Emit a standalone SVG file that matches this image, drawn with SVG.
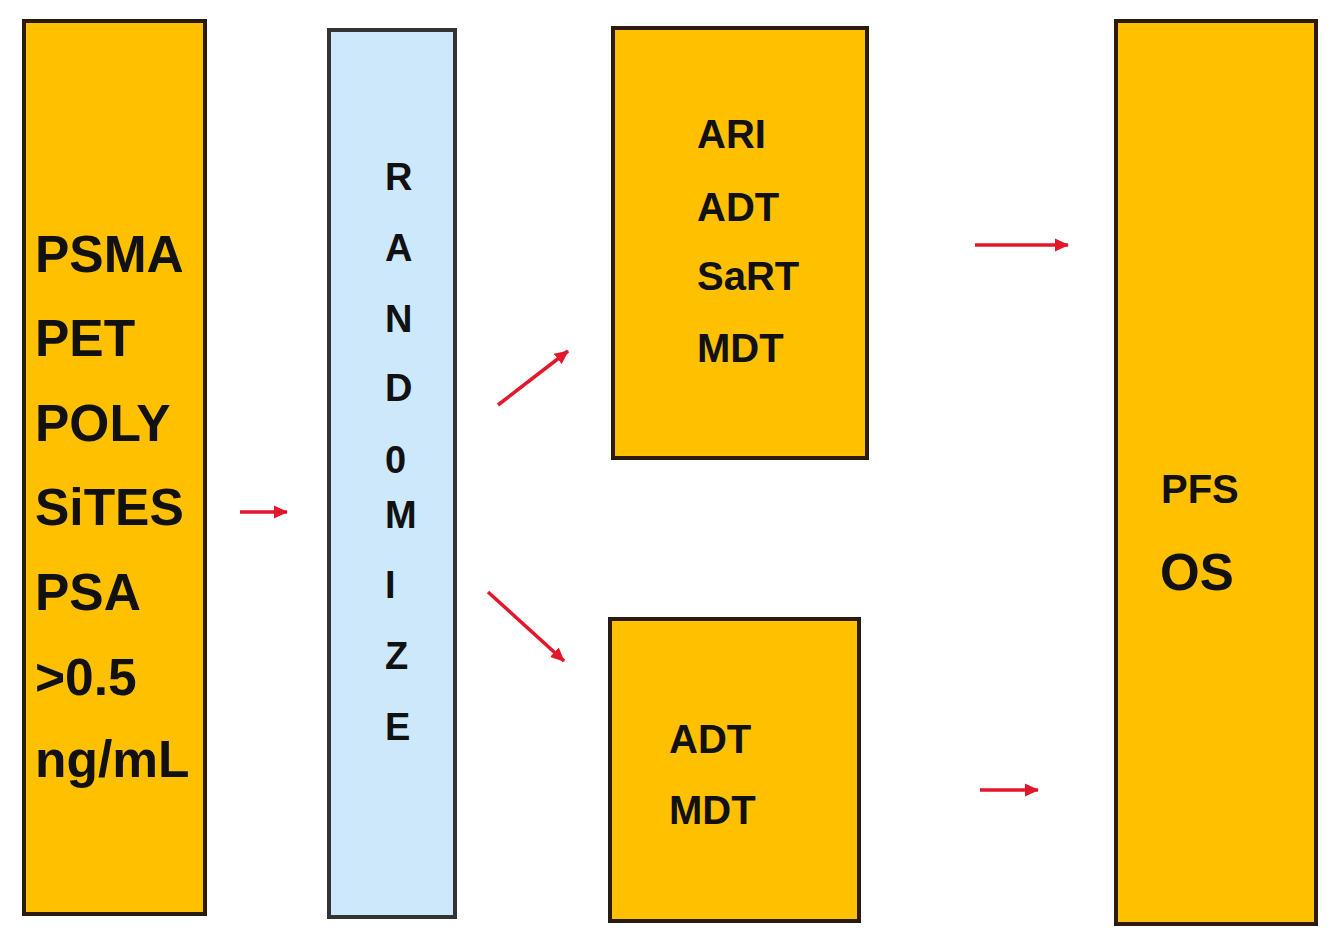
<svg xmlns="http://www.w3.org/2000/svg" width="1341" height="944" viewBox="0 0 1341 944">
<style>
.box{fill:#FFC000;stroke:#2B1A0E;stroke-width:4}
.rnd{fill:#CDE8FA;stroke:#333;stroke-width:4}
text{font-family:"Liberation Sans",Arial,sans-serif;font-weight:bold;fill:#111}
.arr{stroke:#E3172B;stroke-width:3.5;fill:none;marker-end:url(#ah)}
</style>
<defs>
<marker id="ah" markerUnits="userSpaceOnUse" markerWidth="16" markerHeight="14" refX="13" refY="7" orient="auto">
<path d="M0,0.5 L14,7 L0,13.5 z" fill="#E3172B"/>
</marker>
</defs>
<rect width="1341" height="944" fill="#fff"/>
<g id="inclusion">
<rect class="box" x="24" y="21" width="181" height="893"/>
<g font-size="51.5">
<text x="35" y="272">PSMA</text>
<text x="35" y="356">PET</text>
<text x="35" y="441">POLY</text>
<text x="35" y="525">SiTES</text>
<text x="35" y="610">PSA</text>
<text x="35" y="695">&gt;0.5</text>
<text x="35" y="777">ng/mL</text>
</g>
</g>
<g id="randomize">
<rect class="rnd" x="329" y="30" width="126" height="887"/>
<g font-size="38">
<text x="385" y="190">R</text>
<text x="385" y="261">A</text>
<text x="385" y="332">N</text>
<text x="385" y="401">D</text>
<text x="385" y="473">0</text>
<text x="385" y="528">M</text>
<text x="385" y="598">I</text>
<text x="385" y="669">Z</text>
<text x="385" y="740">E</text>
</g>
</g>
<g id="arm1">
<rect class="box" x="613" y="28" width="254" height="430"/>
<g font-size="40">
<text x="697" y="148">ARI</text>
<text x="697" y="221">ADT</text>
<text x="697" y="290">SaRT</text>
<text x="697" y="362">MDT</text>
</g>
</g>
<g id="arm2">
<rect class="box" x="610" y="619" width="249" height="302"/>
<g font-size="40">
<text x="669" y="753">ADT</text>
<text x="669" y="824">MDT</text>
</g>
</g>
<g id="endpoints">
<rect class="box" x="1116" y="21" width="200" height="903"/>
<text x="1161" y="503" font-size="40">PFS</text>
<text x="1160" y="590" font-size="51">OS</text>
</g>
<g id="connectors">
<line class="arr" x1="240" y1="512" x2="287" y2="512"/>
<line class="arr" x1="498" y1="405" x2="568" y2="351"/>
<line class="arr" x1="488" y1="592" x2="564" y2="661"/>
<line class="arr" x1="975" y1="245" x2="1068" y2="245"/>
<line class="arr" x1="980" y1="790" x2="1038" y2="790"/>
</g>
</svg>
